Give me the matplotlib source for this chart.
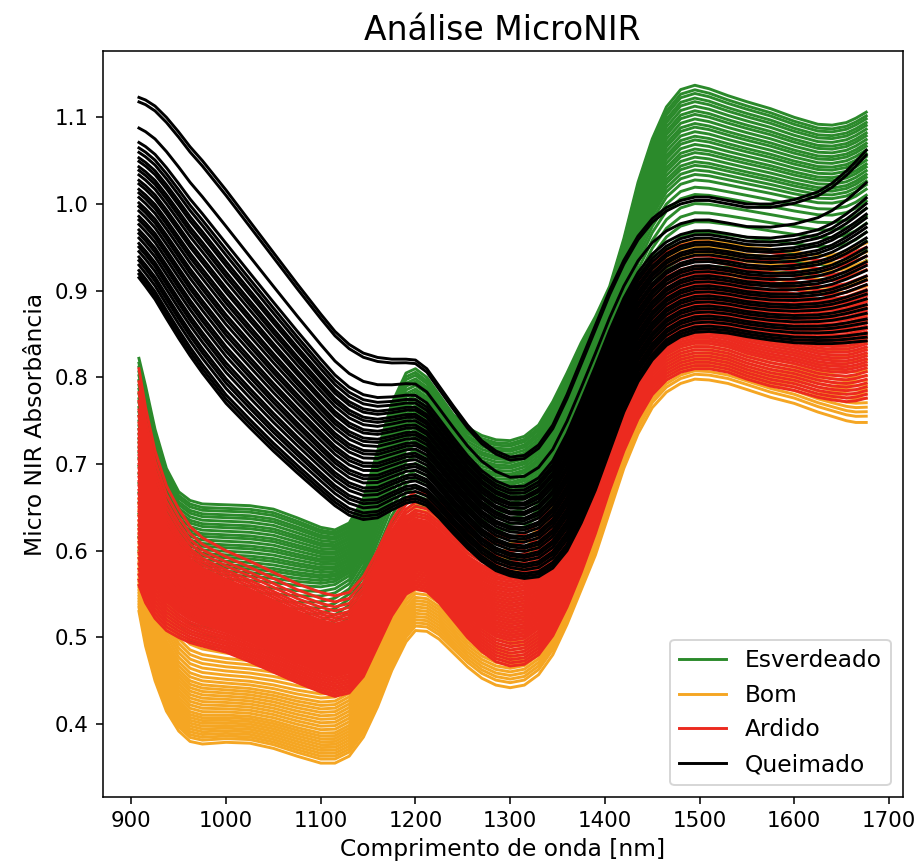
import numpy as np
import matplotlib
matplotlib.use('Agg')
from matplotlib import pyplot as plt

wl = [908, 915, 925, 937, 950, 962, 975, 1000, 1025, 1050, 1075, 1100, 1115, 1130, 1145, 1160,
      1175, 1190, 1200, 1212, 1225, 1240, 1255, 1270, 1285, 1300, 1315, 1330, 1345, 1360, 1375, 1390,
      1405, 1420, 1435, 1450, 1465, 1480, 1495, 1510, 1530, 1550, 1575, 1600, 1625, 1640, 1655, 1665, 1676]

# upper / lower edge of each class band
verde_hi = [0.822, 0.790, 0.740, 0.695, 0.668, 0.658, 0.654, 0.653, 0.652, 0.648, 0.638, 0.627, 0.624, 0.632, 0.660, 0.715,
            0.770, 0.805, 0.810, 0.800, 0.780, 0.757, 0.742, 0.733, 0.728, 0.727, 0.732, 0.745, 0.772, 0.805, 0.840, 0.870,
            0.905, 0.960, 1.025, 1.075, 1.112, 1.132, 1.137, 1.133, 1.125, 1.118, 1.110, 1.100, 1.092, 1.091, 1.094, 1.099, 1.106]
verde_lo = [0.600, 0.575, 0.545, 0.520, 0.503, 0.495, 0.491, 0.488, 0.486, 0.485, 0.488, 0.495, 0.503, 0.515, 0.540, 0.575,
            0.610, 0.635, 0.642, 0.638, 0.628, 0.614, 0.602, 0.594, 0.590, 0.589, 0.593, 0.605, 0.628, 0.660, 0.700, 0.745,
            0.790, 0.835, 0.870, 0.895, 0.912, 0.922, 0.927, 0.928, 0.927, 0.925, 0.922, 0.920, 0.918, 0.918, 0.921, 0.926, 0.935]

bom_hi = [0.660, 0.630, 0.590, 0.550, 0.525, 0.512, 0.506, 0.500, 0.497, 0.494, 0.490, 0.488, 0.490, 0.500, 0.525, 0.565,
          0.610, 0.645, 0.655, 0.652, 0.642, 0.630, 0.620, 0.613, 0.609, 0.608, 0.612, 0.625, 0.650, 0.685, 0.730, 0.780,
          0.830, 0.875, 0.910, 0.932, 0.947, 0.955, 0.959, 0.959, 0.955, 0.950, 0.948, 0.945, 0.940, 0.941, 0.945, 0.950, 0.955]
bom_lo = [0.530, 0.490, 0.450, 0.415, 0.392, 0.380, 0.377, 0.379, 0.378, 0.372, 0.363, 0.355, 0.355, 0.363, 0.385, 0.420,
          0.462, 0.495, 0.508, 0.507, 0.498, 0.482, 0.466, 0.453, 0.445, 0.442, 0.445, 0.457, 0.480, 0.515, 0.555, 0.595,
          0.645, 0.695, 0.735, 0.765, 0.783, 0.793, 0.798, 0.797, 0.793, 0.786, 0.777, 0.770, 0.760, 0.755, 0.750, 0.748, 0.748]

ardido_hi = [0.810, 0.765, 0.715, 0.675, 0.648, 0.628, 0.615, 0.600, 0.588, 0.575, 0.562, 0.552, 0.548, 0.552, 0.570, 0.600,
             0.635, 0.660, 0.668, 0.665, 0.655, 0.642, 0.630, 0.622, 0.617, 0.615, 0.619, 0.632, 0.656, 0.690, 0.735, 0.785,
             0.835, 0.878, 0.910, 0.930, 0.944, 0.952, 0.956, 0.956, 0.952, 0.946, 0.944, 0.940, 0.935, 0.936, 0.940, 0.945, 0.950]
ardido_lo = [0.560, 0.540, 0.522, 0.508, 0.500, 0.494, 0.490, 0.483, 0.472, 0.460, 0.448, 0.437, 0.432, 0.436, 0.455, 0.490,
             0.525, 0.550, 0.556, 0.553, 0.540, 0.520, 0.500, 0.484, 0.472, 0.467, 0.469, 0.480, 0.502, 0.535, 0.575, 0.620,
             0.670, 0.715, 0.752, 0.780, 0.797, 0.806, 0.810, 0.810, 0.806, 0.798, 0.790, 0.785, 0.777, 0.774, 0.772, 0.773, 0.776]

queimado_hi = [1.123, 1.120, 1.113, 1.100, 1.083, 1.066, 1.050, 1.016, 0.980, 0.944, 0.908, 0.873, 0.853, 0.838, 0.828, 0.823,
               0.821, 0.821, 0.820, 0.810, 0.790, 0.767, 0.745, 0.727, 0.715, 0.708, 0.710, 0.722, 0.745, 0.780, 0.820, 0.860,
               0.900, 0.935, 0.963, 0.983, 0.996, 1.004, 1.008, 1.008, 1.004, 1.000, 1.000, 1.005, 1.014, 1.024, 1.038, 1.049, 1.062]
queimado_lo = [0.915, 0.905, 0.890, 0.868, 0.845, 0.825, 0.805, 0.770, 0.742, 0.715, 0.690, 0.666, 0.652, 0.641, 0.636, 0.638,
               0.647, 0.655, 0.657, 0.652, 0.638, 0.620, 0.603, 0.588, 0.577, 0.571, 0.568, 0.570, 0.580, 0.600, 0.632, 0.670,
               0.715, 0.760, 0.795, 0.820, 0.837, 0.847, 0.852, 0.853, 0.851, 0.847, 0.843, 0.840, 0.839, 0.839, 0.840, 0.841, 0.842]

# where every sample sits inside its class band (0 = lower edge, 1 = upper edge)
pos_verde = [1.0, 0.975, 0.955, 0.93, 0.91, 0.885, 0.86, 0.84, 0.815, 0.79, 0.77, 0.745, 0.72, 0.70, 0.675, 0.65,
             0.63, 0.605, 0.58, 0.56, 0.535, 0.51, 0.48, 0.44, 0.40, 0.35, 0.30, 0.25, 0.19, 0.13, 0.07, 0.0]
pos_bom = [1.0, 0.95, 0.90, 0.85, 0.80, 0.76, 0.72, 0.68, 0.64, 0.60, 0.565, 0.53, 0.50, 0.47, 0.44, 0.41,
           0.38, 0.35, 0.32, 0.29, 0.26, 0.235, 0.21, 0.185, 0.16, 0.135, 0.11, 0.085, 0.06, 0.035, 0.0]
pos_ardido = [1.0, 0.94, 0.89, 0.85, 0.81, 0.78, 0.75, 0.72, 0.70, 0.68, 0.66, 0.64, 0.62, 0.60, 0.58, 0.56,
              0.54, 0.52, 0.50, 0.48, 0.46, 0.44, 0.42, 0.40, 0.38, 0.36, 0.34, 0.32, 0.30, 0.28, 0.26, 0.24,
              0.22, 0.20, 0.175, 0.15, 0.125, 0.10, 0.075, 0.05, 0.025, 0.0]
pos_queimado = [1.0, 0.975, 0.83, 0.75, 0.72, 0.695, 0.665, 0.645, 0.615, 0.595, 0.57, 0.54, 0.52, 0.49, 0.47, 0.445,
                0.415, 0.395, 0.37, 0.34, 0.32, 0.295, 0.265, 0.245, 0.22, 0.19, 0.17, 0.145, 0.115, 0.095, 0.07, 0.04,
                0.02, 0.0]

classes = ['Esverdeado', 'Bom', 'Ardido', 'Queimado']
cores = ['#2b8a2b', '#f5a623', '#ec2a1f', 'black']
bandas = [(verde_lo, verde_hi, pos_verde), (bom_lo, bom_hi, pos_bom),
          (ardido_lo, ardido_hi, pos_ardido), (queimado_lo, queimado_hi, pos_queimado)]

fig = plt.figure(figsize=(920 / 140, 865 / 140), dpi=140)
ax = fig.add_axes([0.1115, 0.0786, 0.8696, 0.862])

x = np.array(wl)
for nome, cor, (lo, hi, pos) in zip(classes, cores, bandas):
    lo = np.array(lo)
    hi = np.array(hi)
    for i, f in enumerate(pos):
        ax.plot(x, lo + f * (hi - lo), color=cor, lw=1.5,
                label=nome if i == 0 else None)

ax.set_title('Análise MicroNIR', fontsize=17)
ax.set_xlabel('Comprimento de onda [nm]', fontsize=12)
ax.set_ylabel('Micro NIR Absorbância', fontsize=12)
ax.set_xticks([900, 1000, 1100, 1200, 1300, 1400, 1500, 1600, 1700])
ax.tick_params(labelsize=11)
ax.legend(loc='lower right', fontsize=12)

plt.savefig('out.png', dpi=140)
